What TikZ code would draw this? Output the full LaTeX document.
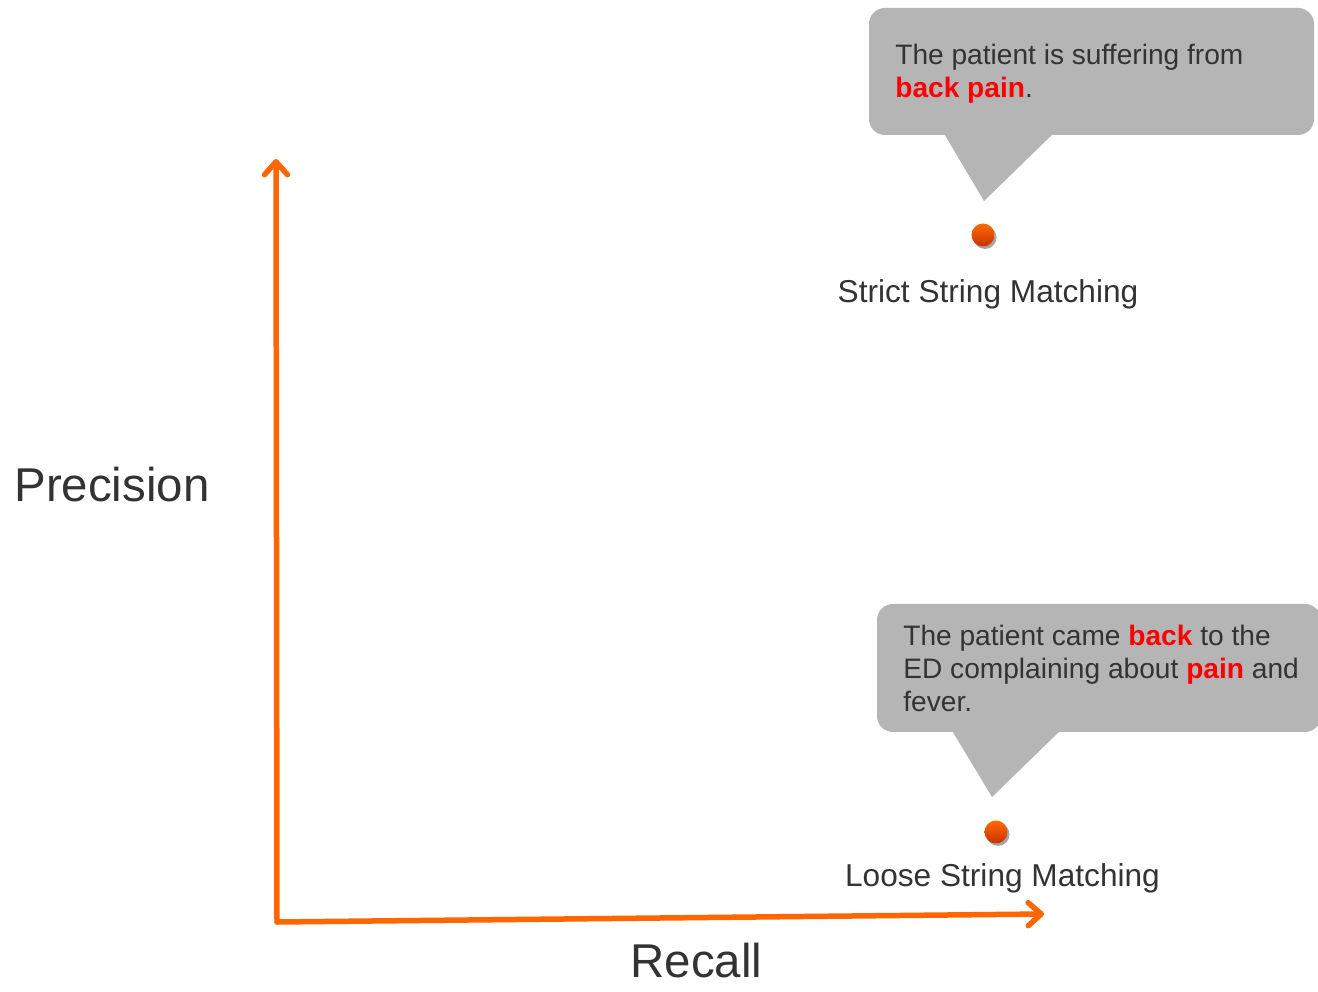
\documentclass[tikz,border=0pt]{standalone}
\usepackage{fontspec}
\setmainfont{Liberation Sans}
\usetikzlibrary{arrows.meta, shadows}
\definecolor{axisorange}{HTML}{FF6600}
\definecolor{bubblegray}{HTML}{B5B5B5}
\definecolor{txtgray}{HTML}{333333}
\definecolor{hlred}{HTML}{FF0000}
\definecolor{dottop}{HTML}{FF6A00}
\definecolor{dotbot}{HTML}{C83200}
\newcommand{\redword}[1]{\textcolor{hlred}{\textbf{#1}}}

\begin{document}
\begin{tikzpicture}[scale=1,
    axis/.style={line width=0.11cm, axisorange, line cap=round,
        -{Straight Barb[length=2.6mm, width=4.6mm, line cap=round, line join=round]}},
    bubble/.style={fill=bubblegray},
    dot/.style={circle, minimum size=0.46cm, inner sep=0, top color=dottop, bottom color=dotbot,
        drop shadow={shadow xshift=0.04cm, shadow yshift=-0.05cm, opacity=0.35, fill=black}},
    lbl/.style={txtgray, font=\fontsize{18}{22}\selectfont, anchor=base, inner sep=0},
    big/.style={txtgray, font=\fontsize{27}{32}\selectfont, anchor=base, inner sep=0},
    quote/.style={txtgray, font=\fontsize{16}{19}\selectfont, anchor=base west, inner sep=0, align=left}]
    \useasboundingbox (0,0) rectangle (26.36,19.84);

    % axes
    \coordinate (origin) at (5.54,1.40);
    \coordinate (ytip) at (5.52,16.66);
    \coordinate (xtip) at (20.88,1.56);
    \draw[axis] (origin) -- (ytip);
    \draw[axis] (origin) -- (xtip);

    \node[big] (precisionlbl) at (2.24,9.80) {Precision};
    \node[big] (recalllbl) at (13.93,0.28) {Recall};

    % strict matching
    \fill[bubble, rounded corners=0.32cm] (17.38,17.14) rectangle (26.28,19.68);
    \fill[bubble] (18.86,17.20) -- (19.68,15.82) -- (21.10,17.20) -- cycle;
    \node[quote] (strictquote) at (17.90,17.88)
        {The patient is suffering from\\ \redword{back pain}.};
    \node[dot] (strictdot) at (19.66,15.14) {};
    \node[lbl] (strictlbl) at (19.76,13.78) {Strict String Matching};

    % loose matching
    \fill[bubble, rounded corners=0.32cm] (17.54,5.20) rectangle (26.42,7.76);
    \fill[bubble] (19.02,5.26) -- (19.84,3.90) -- (21.24,5.26) -- cycle;
    \node[quote] (loosequote) at (18.06,5.60)
        {The patient came \redword{back} to the\\ ED complaining about \redword{pain} and\\ fever.};
    \node[dot] (loosedot) at (19.92,3.20) {};
    \node[lbl] (looselbl) at (20.05,2.10) {Loose String Matching};
\end{tikzpicture}
\end{document}
